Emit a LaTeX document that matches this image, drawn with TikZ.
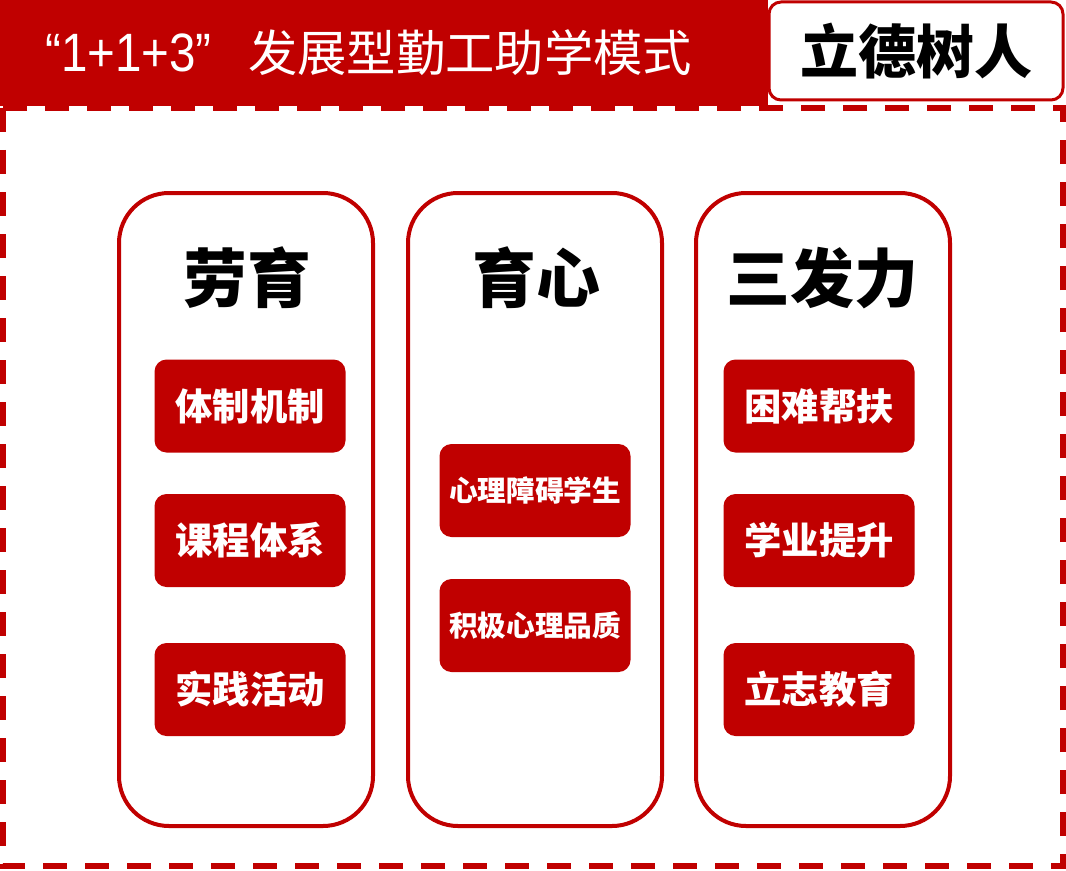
\documentclass[tikz,border=0pt]{standalone}
\usepackage{fontspec}
\setmainfont{Liberation Sans}
\newfontfamily\cjk{Noto Sans CJK SC}
\usepackage{tikz}
\usetikzlibrary{positioning}
\definecolor{redx}{HTML}{C00000}
\tikzset{
  col/.style={draw=redx,line width=3pt,rounded corners=37.5pt,minimum width=190.5pt,minimum height=474.75pt,inner sep=0pt},
  tag/.style={fill=redx,rounded corners=9pt,minimum width=143.25pt,minimum height=69.75pt,inner sep=0pt,text=white,font=\cjk\bfseries\fontsize{28pt}{30pt}\selectfont},
  tagsmall/.style={tag,font=\cjk\bfseries\fontsize{21.5pt}{24pt}\selectfont},
  title/.style={inner sep=0pt,font=\cjk\bfseries\fontsize{48pt}{50pt}\selectfont}
}

\begin{document}
\begin{tikzpicture}[x=0.75pt,y=-0.75pt]
\useasboundingbox (0,0) rectangle (1066,870);
% outer frame
\draw[redx,line width=4.5pt,dash pattern=on 18pt off 13.5pt] (3,108) rectangle (1063,866);
% header
\node[fill=redx,anchor=north west,minimum width=576pt,minimum height=79.5pt,inner sep=0pt] (headbar) at (0,0) {};
\node[text=white,inner sep=0pt,anchor=base west,font=\fontsize{40.5pt}{44pt}\selectfont] (headnum) at (45,72) {\scalebox{0.88}[1]{“1+1+3”}};
\node[text=white,inner sep=0pt,anchor=base west,font=\cjk\fontsize{37pt}{40pt}\selectfont] (headtext) at (248,72) {发展型勤工助学模式};
\node[draw=redx,line width=2.25pt,fill=white,rounded corners=9pt,minimum width=220.5pt,minimum height=73.5pt,inner sep=0pt,font=\cjk\bfseries\fontsize{43.5pt}{46pt}\selectfont] (motto) at (916,51) {立德树人};
% columns
\node[col] (labor) at (246,509.5) {};
\node[col] (mind) at (535,509.5) {};
\node[col] (three) at (823,509.5) {};
\node[title] (laborT) at (247,278) {劳育};
\node[title] (mindT) at (536,278) {育心};
\node[title] (threeT) at (822,278) {三发力};
% items
\node[tag] (l1) at (250,406) {体制机制};
\node[tag] (l2) at (250,540.5) {课程体系};
\node[tag] (l3) at (250,689.5) {实践活动};
\node[tagsmall] (m1) at (535,490.5) {心理障碍学生};
\node[tagsmall] (m2) at (535,625.5) {积极心理品质};
\node[tag] (t1) at (819,406) {困难帮扶};
\node[tag] (t2) at (819,540.5) {学业提升};
\node[tag] (t3) at (819,689.5) {立志教育};
\end{tikzpicture}
\end{document}
